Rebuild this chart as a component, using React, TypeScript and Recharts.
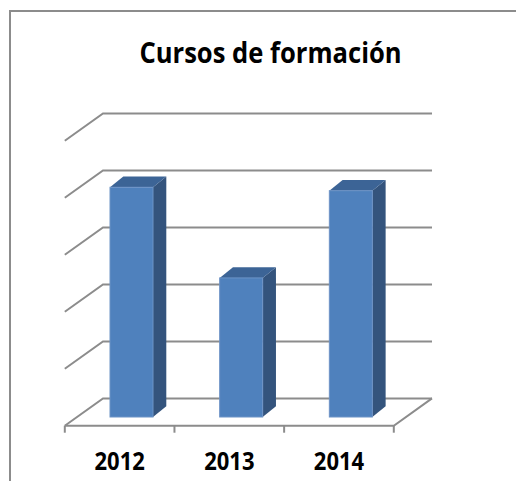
import React from 'react';
import { BarChart, Bar, XAxis, YAxis, CartesianGrid, ReferenceLine } from 'recharts';

// ---- data ----
const categories = ['2012', '2013', '2014'];
const cursosValues = [4.03, 2.44, 3.97];
const yTicks = [0, 1, 2, 3, 4, 5];

const data = categories.map((year, i) => ({ year, cursos: cursosValues[i] }));

// ---- layout / style ----
const W = 516;
const H = 481;
const MARGIN = { top: 132, right: 110, bottom: 0, left: 77 };
const FRONT = { dx: -12.2, dy: 8.7 }; // from bar plane to front edge of floor
const BACK = { dx: 26, dy: -18.6 }; // from bar plane to back wall
const DEPTH = { dx: 13.3, dy: -10.7 }; // bar depth
const GRID = '#8c8c8c';
const FRONT_FILL = '#4f81bd';
const SIDE_FILL = '#34547d';
const TOP_FILL = '#3c6496';
const FONT = '"Open Sans", "Liberation Sans", sans-serif';

function GridLine(props: any) {
  const { x1, x2, y1, index } = props;
  const d = `M${x1 + FRONT.dx},${y1 + FRONT.dy} L${x1 + BACK.dx},${y1 + BACK.dy} L${x2 + BACK.dx},${y1 + BACK.dy}`;
  return <path key={`grid-${index}`} d={d} stroke={GRID} strokeWidth={2} fill="none" />;
}

function Floor(props: any) {
  const { x1, x2, y1 } = props;
  const n = categories.length;
  const fx1 = x1 + FRONT.dx;
  const fx2 = x2 + FRONT.dx;
  const fy = y1 + FRONT.dy;
  const ticks = [];
  for (let k = 0; k <= n; k++) {
    const tx = fx1 + (k * (fx2 - fx1)) / n;
    ticks.push(<line key={k} x1={tx} y1={fy} x2={tx} y2={fy + 7} stroke={GRID} strokeWidth={2} />);
  }
  return (
    <g>
      <path
        d={`M${fx1},${fy} L${fx2},${fy} L${x2 + BACK.dx},${y1 + BACK.dy}`}
        stroke={GRID}
        strokeWidth={2}
        fill="none"
      />
      {ticks}
    </g>
  );
}

function Bar3D(props: any) {
  const { x, y, width, height } = props;
  if (height == null || width == null) return null;
  const { dx, dy } = DEPTH;
  const side = `${x + width},${y} ${x + width + dx},${y + dy} ${x + width + dx},${y + height + dy} ${x + width},${y + height}`;
  const top = `${x},${y} ${x + dx},${y + dy} ${x + width + dx},${y + dy} ${x + width},${y}`;
  return (
    <g>
      <polygon points={side} fill={SIDE_FILL} />
      <polygon points={top} fill={TOP_FILL} />
      <rect x={x} y={y} width={width} height={height} fill={FRONT_FILL} stroke="#6d93c6" strokeWidth={1} />
    </g>
  );
}

function YearTick(props: any) {
  const { x, y, payload } = props;
  return (
    <g transform={`translate(${x + FRONT.dx},${y + 53}) scale(1,1.17)`}>
      <text x={0} y={0} textAnchor="middle" fontFamily={FONT} fontWeight={700} fontSize={22} fill="#000">
        {payload.value}
      </text>
    </g>
  );
}

export default function App() {
  return (
    <div style={{ position: 'absolute', left: 0, top: 0, width: W, height: H, overflow: 'hidden', background: '#fff' }}>
      <div
        style={{
          position: 'absolute',
          left: 9,
          top: 10,
          width: 700,
          height: 700,
          border: '2px solid #8c8c8c',
          boxSizing: 'border-box',
        }}
      />
      <svg style={{ position: 'absolute', left: 0, top: 0 }} width={W} height={H}>
        <g transform="translate(270.5,62.7) scale(1,1.11)">
          <text x={0} y={0} textAnchor="middle" fontFamily={FONT} fontWeight={700} fontSize={25.6} fill="#000">
            Cursos de formación
          </text>
        </g>
      </svg>
      <div style={{ position: 'absolute', left: 0, top: 0 }}>
        <BarChart width={W} height={H} data={data} margin={MARGIN}>
          <CartesianGrid vertical={false} horizontal={GridLine as any} />
          <XAxis
            dataKey="year"
            axisLine={false}
            tickLine={false}
            tickSize={0}
            tickMargin={0}
            height={64}
            interval={0}
            tick={<YearTick />}
          />
          <YAxis hide type="number" domain={[0, 5]} ticks={yTicks} />
          <Bar dataKey="cursos" barSize={43} shape={<Bar3D />} isAnimationActive={false} />
          <ReferenceLine y={0} shape={Floor as any} />
        </BarChart>
      </div>
    </div>
  );
}
